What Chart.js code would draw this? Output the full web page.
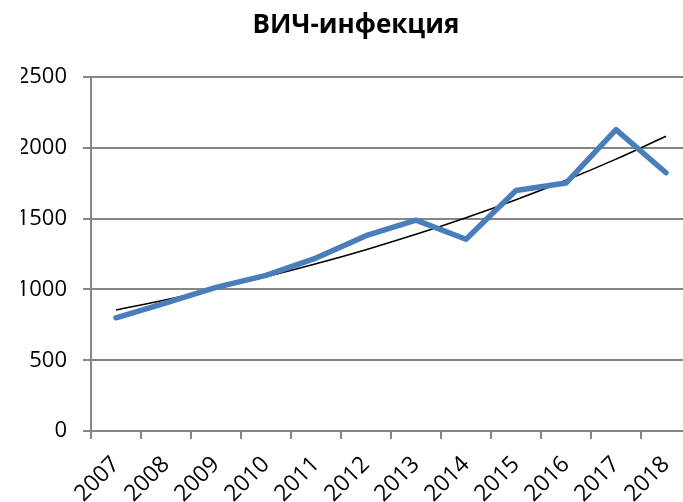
<!DOCTYPE html>
<html lang="ru">
<head>
    <meta charset="UTF-8">
    <title>ВИЧ-инфекция</title>
    <script src="https://cdn.jsdelivr.net/npm/chart.js"></script>
    <style>
        body {
            margin: 0;
            padding: 0;
            background: #fff;
            overflow: hidden;
            font-family: 'Open Sans', sans-serif;
            font-stretch: normal;
        }
        #chart {
            display: block;
        }
    </style>
</head>
<body>
<canvas id="chart" width="700" height="502"></canvas>

<script>
    const years = ['2007', '2008', '2009', '2010', '2011', '2012', '2013', '2014', '2015', '2016', '2017', '2018'];
    const cases = [800, 905, 1015, 1100, 1222, 1380, 1490, 1355, 1700, 1752, 2130, 1825];
    const yTicks = [0, 500, 1000, 1500, 2000, 2500];

    // exponential trend line (least squares on ln y), like the spreadsheet trendline
    function expTrend(values) {
        const n = values.length;
        const xs = values.map((v, i) => i);
        const ls = values.map(v => Math.log(v));
        const mx = xs.reduce((a, b) => a + b, 0) / n;
        const my = ls.reduce((a, b) => a + b, 0) / n;
        let sxy = 0, sxx = 0;
        for (let i = 0; i < n; i++) {
            sxy += (xs[i] - mx) * (ls[i] - my);
            sxx += (xs[i] - mx) * (xs[i] - mx);
        }
        const b = sxy / sxx;
        const a = my - b * mx;
        return xs.map(x => Math.exp(a + b * x));
    }
    const trend = expTrend(cases);

    const font = "'Open Sans', 'DejaVu Sans', sans-serif";
    const gridColor = '#868686';

    function drawChart() {
        new Chart(document.getElementById('chart').getContext('2d'), {
            type: 'line',
            data: {
                labels: years,
                datasets: [{
                    label: 'ВИЧ-инфекция',
                    data: cases,
                    borderColor: '#4A7EBB',
                    borderWidth: 5.5,
                    borderCapStyle: 'round',
                    borderJoinStyle: 'round',
                    pointRadius: 0,
                    fill: false,
                    tension: 0
                }, {
                    label: 'Тренд',
                    data: trend,
                    borderColor: '#000',
                    borderWidth: 1.6,
                    pointRadius: 0,
                    fill: false,
                    tension: 0.4
                }]
            },
            options: {
                responsive: false,
                animation: false,
                layout: {
                    padding: { left: 21, right: 9, top: 0, bottom: 0 }
                },
                plugins: {
                    legend: { display: false },
                    tooltip: { enabled: false },
                    title: {
                        display: true,
                        text: 'ВИЧ-инфекция',
                        color: '#000',
                        font: { family: font, size: 26, weight: 'bold' },
                        padding: { top: 10, bottom: 36 }
                    }
                },
                scales: {
                    x: {
                        offset: true,
                        border: { color: gridColor, width: 2 },
                        grid: {
                            offset: true,
                            drawOnChartArea: false,
                            drawTicks: true,
                            tickLength: 8,
                            color: gridColor,
                            lineWidth: 2
                        },
                        ticks: {
                            color: '#000',
                            font: { family: font, size: 23 },
                            minRotation: 45,
                            maxRotation: 45,
                            padding: 12,
                            autoSkip: false
                        },
                        afterFit: s => { s.height = 71; }
                    },
                    y: {
                        min: 0,
                        max: 2500,
                        border: { color: gridColor, width: 2 },
                        grid: {
                            color: gridColor,
                            lineWidth: 2,
                            drawTicks: true,
                            tickLength: 8
                        },
                        afterBuildTicks: s => { s.ticks = yTicks.map(v => ({ value: v })); },
                        ticks: {
                            color: '#000',
                            font: { family: font, size: 22 },
                            padding: 16,
                            callback: v => String(v)
                        },
                        afterFit: s => { s.width = 70; }
                    }
                }
            }
        });
    }

    // make sure the local fonts are ready before the canvas text is measured
    Promise.all([
        document.fonts.load("22px 'Open Sans'"),
        document.fonts.load("bold 26px 'Open Sans'", 'ВИЧ')
    ]).then(drawChart, drawChart);
</script>
</body>
</html>
